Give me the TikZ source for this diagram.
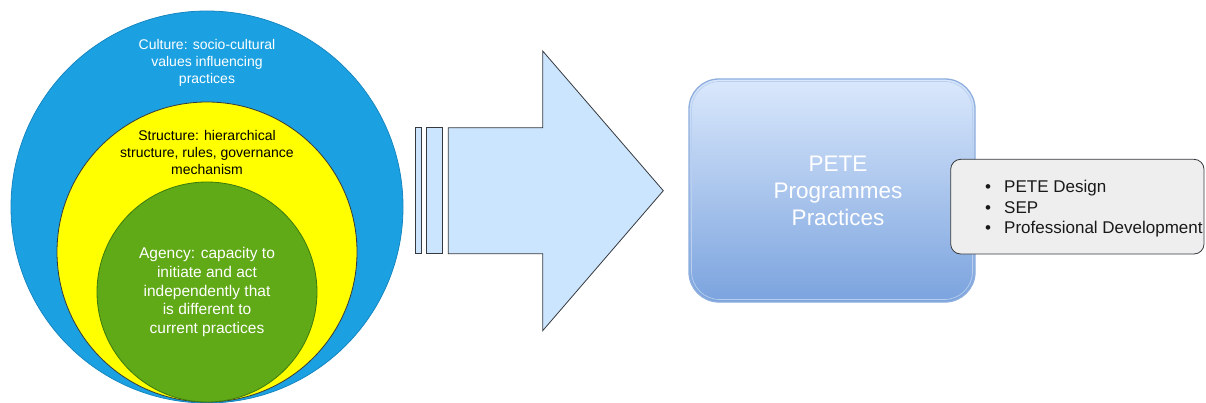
\documentclass[tikz,border=0pt]{standalone}
\usepackage{fontspec}
\setmainfont{Liberation Sans}
\begin{document}
\begin{tikzpicture}[x=1pt,y=-1pt,
  ring/.style={circle,inner sep=0pt,line width=0.8pt},
  ringtext/.style={align=center,inner sep=0pt,font=\fontsize{14}{17}\selectfont},
  arrowpart/.style={fill=arrowfill,draw=edgegray,line width=0.8pt,line join=miter}
]
\definecolor{cultureblue}{HTML}{1BA1E2}
\definecolor{culturestroke}{HTML}{1686C0}
\definecolor{structyellow}{HTML}{FFFF00}
\definecolor{agencygreen}{HTML}{60A917}
\definecolor{agencystroke}{HTML}{3D7A0E}
\definecolor{edgegray}{HTML}{36393D}
\definecolor{arrowfill}{HTML}{CCE5FF}
\definecolor{boxtop}{HTML}{DAE8FC}
\definecolor{boxbottom}{HTML}{7BA3DE}
\definecolor{boxstroke}{HTML}{8EAEDD}
\definecolor{boxinner}{HTML}{B8CFEF}
\definecolor{notefill}{HTML}{EEEEEE}

\useasboundingbox (0,0) rectangle (1206,403);

% nested circles
\node[ring,fill=cultureblue,draw=culturestroke,minimum size=392pt] (culture) at (207,207) {};
\node[ring,fill=structyellow,draw=edgegray,minimum size=300pt] (structure) at (207,252) {};
\node[ring,fill=agencygreen,draw=agencystroke,minimum size=220pt] (agency) at (207,292) {};

\node[ringtext,text=white] (culturetext) at (207,63)
  {Culture: socio-cultural\\values influencing\\practices};
\node[ringtext,text=black] (structuretext) at (207,152)
  {Structure: hierarchical\\structure, rules, governance\\mechanism};
\node[ringtext,text=white,font=\fontsize{15.5}{18.6}\selectfont] (agencytext) at (207,292)
  {Agency: capacity to\\initiate and act\\independently that\\is different to\\current practices};

% striped block arrow
\draw[arrowpart] (415.7,127.7) rectangle (421,253.7);
\draw[arrowpart] (426,127.7) rectangle (442,253.7);
\draw[arrowpart] (448.3,127.7) -- (542.7,127.7) -- (542.7,51) -- (663.3,190.7)
  -- (542.7,330.7) -- (542.7,253.7) -- (448.3,253.7) -- cycle;

% programme box
\shade[top color=boxtop,bottom color=boxbottom,rounded corners=30pt]
  (689,79) rectangle (975,302);
\draw[boxstroke,line width=1.3pt,rounded corners=30pt] (689,79) rectangle (975,302);
\draw[boxinner,line width=0.7pt,rounded corners=28pt] (691.5,81.5) rectangle (972.5,299.5);
\node[align=center,text=white,inner sep=0pt,font=\fontsize{22.5}{27}\selectfont]
  (pete) at (838,191) {PETE\\Programmes\\Practices};

% list note
\node[draw=edgegray,fill=notefill,line width=0.8pt,rounded corners=10pt,
  minimum width=253.3pt,minimum height=94.7pt,inner sep=0pt] (note) at (1077.35,206.65) {};
\node[anchor=west,align=left,inner sep=0pt,text=black!90,
  font=\fontsize{17}{20.5}\selectfont] (notelist) at (985,209)
  {\makebox[19pt][l]{\textbullet}PETE Design\\
   \makebox[19pt][l]{\textbullet}SEP\\
   \makebox[19pt][l]{\textbullet}Professional Development};
\end{tikzpicture}
\end{document}
